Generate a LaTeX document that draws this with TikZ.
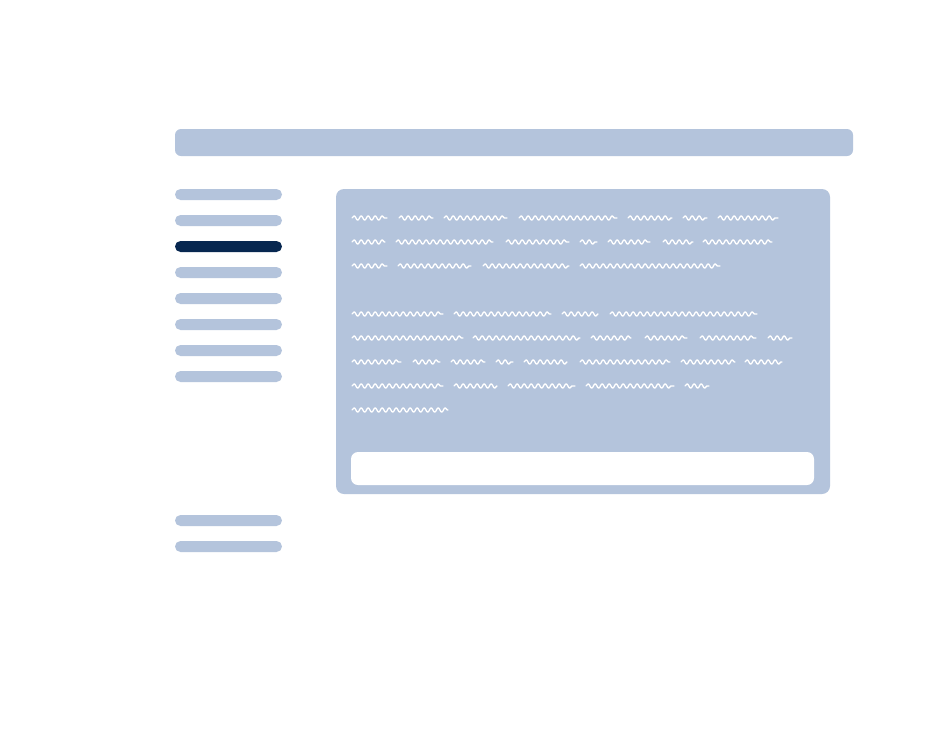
\documentclass[tikz,border=0pt]{standalone}
\usepackage{tikz}
\usepackage{xcolor}
\usetikzlibrary{decorations.pathmorphing}
\definecolor{paleblue}{RGB}{180,196,220}
\definecolor{navy}{RGB}{7,39,80}

\begin{document}
\begin{tikzpicture}[x=0.3mm, y=-0.3mm,
		scribble/.style={white, line width=0.4mm, line cap=round, line join=round,
			decorate, decoration={snake, amplitude=0.65mm, segment length=2.1mm}}]
		\useasboundingbox[fill=white] (0,0) rectangle (943,740);

		% header
		\fill[paleblue, rounded corners=1.8mm] (175,129) rectangle (853,156);

		% menu
		\foreach \y in {189,215,267,293,319,345,371,515,541}
			\fill[paleblue, rounded corners=1.65mm] (175,\y) rectangle ++(107,11);
		\fill[navy, rounded corners=1.65mm] (175,241) rectangle ++(107,11);

		% content panel
		\fill[paleblue, rounded corners=2.4mm] (336,189) rectangle (830,494);
		\fill[white, rounded corners=2.1mm] (351,452) rectangle (814,485);

		% scribbled text
		\foreach \y/\words in {
			218/{352/387,399/433,444/507,519/617,628/672,683/707,718/778},
			242/{352/385,396/493,506/569,580/597,608/650,663/693,703/772},
			266/{352/387,398/471,483/569,580/720},
			314/{352/443,454/551,562/598,610/757},
			338/{352/463,473/580,591/631,645/687,700/756,768/792},
			362/{352/401,413/440,451/485,496/513,524/567,580/670,681/735,745/782},
			386/{352/443,454/497,508/575,586/674,685/709},
			410/{352/448}}
			\foreach \a/\b in \words
				\draw[scribble] (\a,\y) -- (\b,\y);
	\end{tikzpicture}
\end{document}
